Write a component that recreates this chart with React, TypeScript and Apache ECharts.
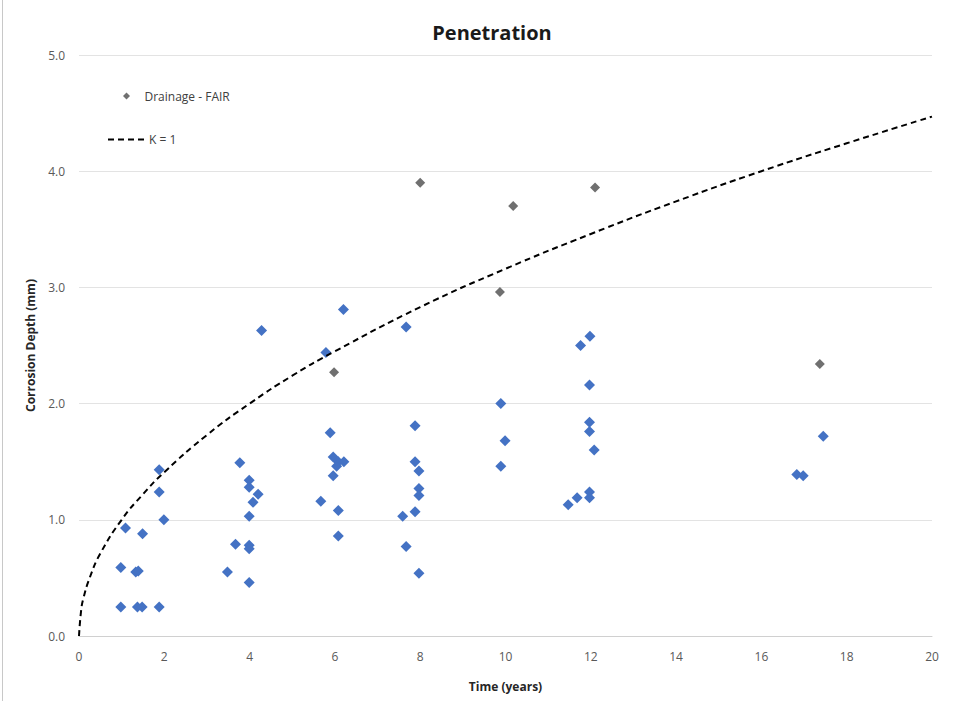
import React, { useEffect, useRef } from "react";
import * as echarts from "echarts";

// Blue diamonds (no legend entry): [time (years), depth (mm)]
const blueTime = [
  4.28, 1.88, 3.77, 3.99, 3.99, 4.2, 4.08, 1.88, 1.99, 3.99, 1.09, 1.49, 3.67, 3.99, 3.99,
  0.98, 1.33, 1.39, 3.48, 3.99, 0.98, 1.37, 1.48, 1.88,
  6.2, 7.67, 5.79, 5.89, 7.88, 5.96, 6.08, 6.21, 6.04, 5.96, 5.67, 6.08, 6.08,
  7.88, 7.97, 7.97, 7.97, 7.88, 7.59, 7.67, 7.97,
  11.98, 11.76, 11.97, 9.89, 11.97, 11.97, 12.08, 9.99, 9.89, 11.97, 11.97, 11.68, 11.47,
  17.45, 16.83, 16.98,
];
const blueDepth = [
  2.63, 1.43, 1.49, 1.34, 1.28, 1.22, 1.15, 1.24, 1.0, 1.03, 0.93, 0.88, 0.79, 0.78, 0.75,
  0.59, 0.55, 0.56, 0.55, 0.46, 0.25, 0.25, 0.25, 0.25,
  2.81, 2.66, 2.44, 1.75, 1.81, 1.54, 1.5, 1.5, 1.46, 1.38, 1.16, 1.08, 0.86,
  1.5, 1.42, 1.27, 1.21, 1.07, 1.03, 0.77, 0.54,
  2.58, 2.5, 2.16, 2.0, 1.84, 1.76, 1.6, 1.68, 1.46, 1.24, 1.19, 1.19, 1.13,
  1.72, 1.39, 1.38,
];

// Grey points: "Drainage - FAIR"
const fairTime = [8.0, 10.18, 9.87, 12.1, 17.37, 5.98];
const fairDepth = [3.9, 3.7, 2.96, 3.86, 2.34, 2.27];

// Dashed reference curve "K = 1"
const curveTime = [0, 0.05, 0.1, 0.25, 0.5, 1, 1.5, 2, 3, 4, 5, 6, 8, 10, 12, 14, 16, 18, 20];
const curveDepth = [0, 0.22, 0.32, 0.5, 0.71, 1.0, 1.22, 1.41, 1.73, 2.0, 2.24, 2.45, 2.83, 3.16, 3.46, 3.74, 4.0, 4.24, 4.47];

const yTicks = ["0.0", "1.0", "2.0", "3.0", "4.0", "5.0"];

const FONT = "'Open Sans', sans-serif";

export default function App() {
  const ref = useRef<HTMLDivElement>(null);
  useEffect(() => {
    if (!ref.current) return;
    const chart = echarts.init(ref.current, undefined, { renderer: "svg" });
    const blue = blueTime.map((t, i) => [t, blueDepth[i]]);
    const fair = fairTime.map((t, i) => [t, fairDepth[i]]);
    const curve = curveTime.map((t, i) => [t, curveDepth[i]]);
    chart.setOption({
      animation: false,
      backgroundColor: "#ffffff",
      textStyle: { fontFamily: FONT },
      title: {
        text: "Penetration",
        left: 487,
        top: 17,
        textAlign: "center",
        textStyle: { fontFamily: FONT, fontSize: 20, fontWeight: "bold", color: "#1a1a1a" },
      },
      grid: { left: 79, right: 24, top: 55, bottom: 65, containLabel: false },
      legend: {
        orient: "vertical",
        left: 118,
        top: 85,
        itemWidth: 26,
        itemHeight: 7,
        data: [
          {
            name: "Drainage - FAIR",
            icon: "path://M0,-1 L1,0 L0,1 L-1,0 Z",
            itemStyle: { color: "#707070" },
          },
        ],
        textStyle: { fontFamily: FONT, fontSize: 12, color: "#404040" },
      },
      xAxis: {
        type: "value",
        min: 0,
        max: 20,
        interval: 2,
        name: "Time (years)",
        nameLocation: "middle",
        nameGap: 44,
        nameTextStyle: { fontFamily: FONT, fontSize: 12, fontWeight: "bold", color: "#262626" },
        axisLine: { show: true, lineStyle: { color: "#d0d0d0", width: 1 } },
        axisTick: { show: false },
        splitLine: { show: false },
        axisLabel: { color: "#595959", fontSize: 12, margin: 14, fontFamily: FONT },
      },
      yAxis: {
        type: "value",
        min: 0,
        max: 5,
        interval: 1,
        name: "Corrosion Depth (mm)",
        nameLocation: "middle",
        nameGap: 43,
        nameRotate: 90,
        nameTextStyle: { fontFamily: FONT, fontSize: 12, fontWeight: "bold", color: "#262626" },
        axisLine: { show: false },
        axisTick: { show: false },
        splitLine: { show: true, lineStyle: { color: "#e3e3e3", width: 1 } },
        axisLabel: {
          color: "#595959",
          fontSize: 12,
          margin: 14,
          fontFamily: FONT,
          formatter: (v: number) => yTicks[Math.round(v)] ?? String(v),
        },
      },
      series: [
        {
          name: "Blue",
          type: "scatter",
          data: blue,
          symbol: "diamond",
          symbolSize: 11,
          itemStyle: { color: "#4472C4", opacity: 1 },
          z: 3,
        },
        {
          name: "Drainage - FAIR",
          type: "scatter",
          data: fair,
          symbol: "diamond",
          symbolSize: 10,
          itemStyle: { color: "#707070", opacity: 1 },
          z: 4,
        },
        {
          name: "K = 1",
          type: "line",
          data: curve,
          smooth: true,
          showSymbol: false,
          symbol: "none",
          lineStyle: { color: "#000000", width: 2, type: [6, 4] },
          itemStyle: { color: "#000000" },
          z: 5,
        },
      ],
      graphic: [
        {
          type: "line",
          shape: { x1: 2.5, y1: 0, x2: 2.5, y2: 701 },
          style: { stroke: "#c8c8c8", lineWidth: 1 },
        },
        {
          type: "line",
          shape: { x1: 108, y1: 139.5, x2: 146, y2: 139.5 },
          style: { stroke: "#000000", lineWidth: 2, lineDash: [6, 4] },
        },
        {
          type: "text",
          x: 149,
          y: 139,
          style: {
            text: "K = 1",
            fill: "#404040",
            font: "12px 'Open Sans', sans-serif",
            verticalAlign: "middle",
          },
        },
      ],
    });
    return () => chart.dispose();
  }, []);
  return (
    <div
      ref={ref}
      style={{ position: "fixed", left: 0, top: 0, width: 956, height: 701 }}
    />
  );
}
